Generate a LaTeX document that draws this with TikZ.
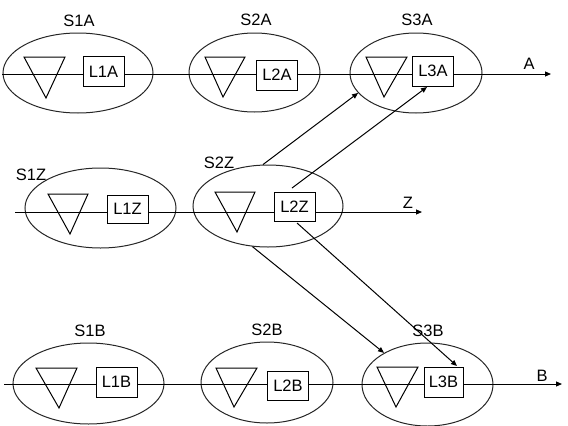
\documentclass[tikz,border=0pt]{standalone}
\usepackage{fontspec}
\setmainfont{Liberation Sans}
\usetikzlibrary{shapes.geometric,arrows.meta}
\begin{document}
\begin{tikzpicture}[x=1pt,y=-1pt,
  every node/.style={font=\fontsize{16.5}{19}\selectfont},
  ell/.style={draw,ellipse,inner sep=0pt,line width=1pt,black!85},
  lbox/.style={draw,fill=white,minimum width=41pt,minimum height=30pt,inner sep=0pt,line width=1pt},
  tri/.style={draw,line width=1pt,line join=miter},
  wire/.style={line width=1pt},
  arr/.style={line width=1pt,-{Triangle[length=6pt,width=5pt]}},
  lbl/.style={inner sep=0pt}]
\useasboundingbox (0,0) rectangle (568,426);
% ellipses
\node[ell,minimum width=150pt,minimum height=80pt] (S1A) at (78,73) {};
\node[ell,minimum width=131pt,minimum height=79pt] (S2A) at (254.5,72.5) {};
\node[ell,minimum width=132pt,minimum height=80pt] (S3A) at (416,73) {};
\node[ell,minimum width=151pt,minimum height=80pt] (S1Z) at (100.5,208) {};
\node[ell,minimum width=150pt,minimum height=82pt] (S2Z) at (268,206) {};
\node[ell,minimum width=151pt,minimum height=81pt] (S1B) at (88.5,383.5) {};
\node[ell,minimum width=132pt,minimum height=81pt] (S2B) at (267,382.5) {};
\node[ell,minimum width=131pt,minimum height=83pt] (S3B) at (427.5,384.5) {};
% line ends
\coordinate (Ain) at (2,74);
\coordinate (Aout) at (551,74);
\coordinate (Zin) at (15,212);
\coordinate (Zout) at (422,212);
\coordinate (Bin) at (4,384);
\coordinate (Bout) at (562,384);
\draw[arr] (Ain) -- (Aout);
\draw[arr] (Zin) -- (Zout);
\draw[arr] (Bin) -- (Bout);
% triangles
\draw[tri] (24,57) -- (65,57) -- (46,98) -- cycle;
\draw[tri] (205,57) -- (245,57) -- (223,97) -- cycle;
\draw[tri] (366,57) -- (407,57) -- (384,97) -- cycle;
\draw[tri] (48,194) -- (88,194) -- (70,234) -- cycle;
\draw[tri] (215,192) -- (255,192) -- (237,232) -- cycle;
\draw[tri] (36,368) -- (77,368) -- (59,408) -- cycle;
\draw[tri] (216,368) -- (257,368) -- (234,407) -- cycle;
\draw[tri] (377,367) -- (418,367) -- (396,407) -- cycle;
% boxes
\node[lbox] (L1A) at (103.5,71.5) {L1A};
\node[lbox] (L2A) at (277,75) {L2A};
\node[lbox] (L3A) at (433,71) {L3A};
\node[lbox,minimum height=28pt] (L1Z) at (127.5,209) {L1Z};
\node[lbox,minimum height=29pt] (L2Z) at (294.5,206.5) {L2Z};
\node[lbox] (L1B) at (116.5,382) {L1B};
\node[lbox,minimum height=29pt] (L2B) at (288,385.5) {L2B};
\node[lbox,minimum width=39pt] (L3B) at (443.5,382) {L3B};
% labels
\node[lbl] (tS1A) at (79,21) {S1A};
\node[lbl] (tS2A) at (256,20) {S2A};
\node[lbl] (tS3A) at (417,20) {S3A};
\node[lbl] (tA) at (529,64) {A};
\node[lbl] (tS1Z) at (31,175) {S1Z};
\node[lbl] (tS2Z) at (219,163) {S2Z};
\node[lbl] (tZ) at (408,203) {Z};
\node[lbl] (tS1B) at (90,331) {S1B};
\node[lbl] (tS2B) at (267,330) {S2B};
\node[lbl] (tS3B) at (428,331) {S3B};
\node[lbl] (tB) at (542,376) {B};
% cross connections
\coordinate (d2s) at (292,188);
\coordinate (d2e) at (427,87);
\coordinate (d4s) at (297,223);
\coordinate (d4e) at (457,366);
\draw[arr] (S2Z.97) -- (S3A.199);
\draw[arr] (d2s) -- (d2e);
\draw[arr] (S2Z.249) -- (S3B.144);
\draw[arr] (d4s) -- (d4e);
\end{tikzpicture}
\end{document}
